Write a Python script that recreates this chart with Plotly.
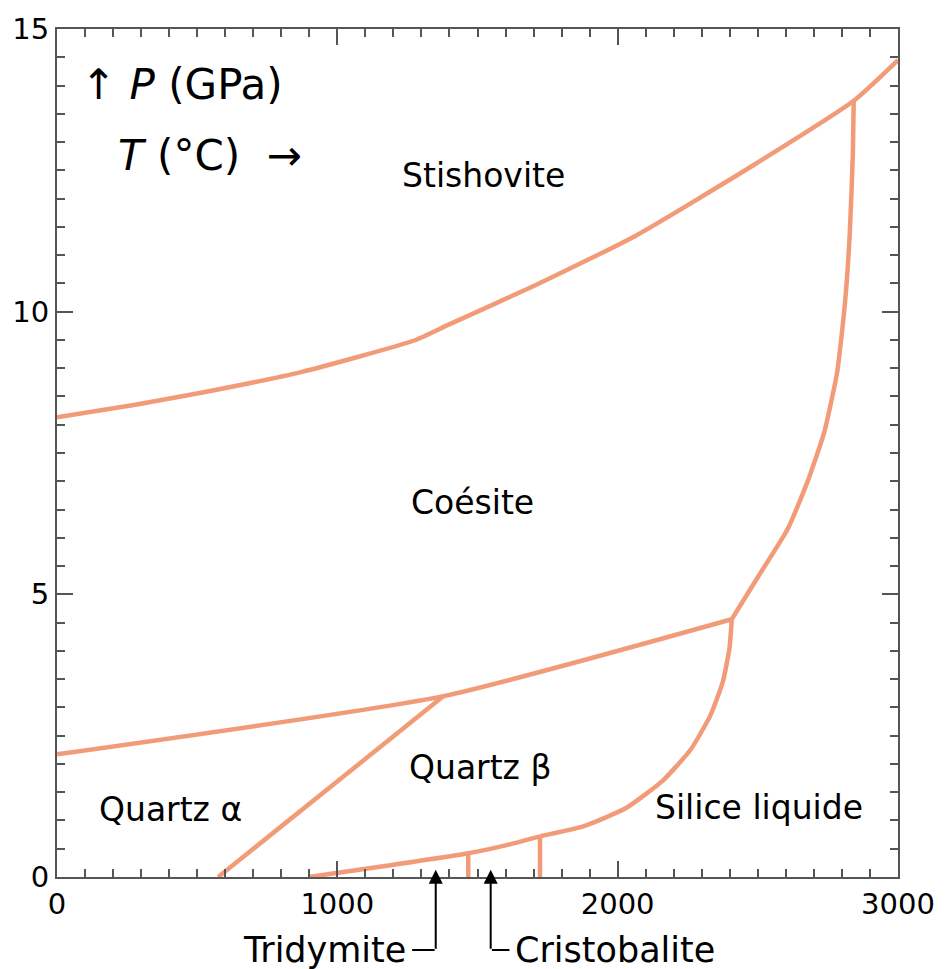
import plotly.graph_objects as go

# Phase boundaries (T in °C, P in GPa)
stish_coes_T = [0, 274, 519, 870, 1274, 1397, 1712, 2063, 2484, 2842, 3000]
stish_coes_P = [8.13, 8.35, 8.57, 8.93, 9.49, 9.77, 10.48, 11.34, 12.59, 13.73, 14.45]

melt_high_T = [2842, 2839, 2828, 2811, 2783, 2737, 2677, 2607, 2502, 2407]
melt_high_P = [13.73, 12.8, 11.39, 10.16, 8.93, 7.87, 6.99, 6.16, 5.32, 4.56]

coes_qtz_T = [0, 1379, 2407]
coes_qtz_P = [2.17, 3.2, 4.56]

alpha_beta_T = [575, 1379]
alpha_beta_P = [0, 3.2]

melt_qtz_T = [2407, 2399, 2375, 2330, 2260, 2160, 2030, 1880, 1723]
melt_qtz_P = [4.56, 4.05, 3.45, 2.85, 2.25, 1.7, 1.22, 0.9, 0.72]

qtz_trid_T = [1723, 1600, 1467, 1151, 898]
qtz_trid_P = [0.72, 0.56, 0.42, 0.18, 0]

trid_crist_T = [1467, 1467]
trid_crist_P = [0, 0.42]

crist_liq_T = [1723, 1723]
crist_liq_P = [0, 0.72]

phase_names = ["Stishovite", "Coésite", "Quartz β", "Quartz α", "Silice liquide"]
phase_T = [1520, 1481, 1509, 405, 2505]
phase_P = [12.4, 6.62, 1.94, 1.2, 1.23]

x_ticks = [0, 1000, 2000, 3000]
y_ticks = [0, 5, 10, 15]

# Arrows marking the narrow fields (T of arrow, T of elbow end, label)
arrow_T = [1351, 1547]
elbow_T = [1267, 1614]
arrow_labels = ["Tridymite", "Cristobalite"]

LINE = "#F29B78"
AX = "#555555"
FONT = "DejaVu Sans"
T_MAX, P_MAX = 3000, 15
PLOT_W, PLOT_H = 855, 852

fig = go.Figure()
curves = [
    (stish_coes_T, stish_coes_P),
    (melt_high_T, melt_high_P),
    (coes_qtz_T, coes_qtz_P),
    (alpha_beta_T, alpha_beta_P),
    (melt_qtz_T, melt_qtz_P),
    (qtz_trid_T, qtz_trid_P),
    (trid_crist_T, trid_crist_P),
    (crist_liq_T, crist_liq_P),
]
for tx, py in curves:
    fig.add_trace(go.Scatter(x=tx, y=py, mode="lines",
                             line=dict(color=LINE, width=4.5, shape="spline", smoothing=0.5),
                             hoverinfo="skip", showlegend=False))

for name, tx, py in zip(phase_names, phase_T, phase_P):
    fig.add_annotation(x=tx, y=py, xref="x", yref="y", text=name, showarrow=False,
                       font=dict(family=FONT, size=33, color="black"))

# Axis labels inside plot
fig.add_annotation(x=0.026, y=0.935, xref="paper", yref="paper", xanchor="left", yanchor="middle",
                   text="↑ <i>P</i> (GPa)", showarrow=False,
                   font=dict(family=FONT, size=42, color="black"))
fig.add_annotation(x=0.07, y=0.851, xref="paper", yref="paper", xanchor="left", yanchor="middle",
                   text="<i>T</i> (°C)  →", showarrow=False,
                   font=dict(family=FONT, size=42, color="black"))

# Arrows under the axis
tip_P, tail_P = 0.13, -1.29
px_per_P = PLOT_H / P_MAX
px_per_T = PLOT_W / T_MAX
for tx, hx, label in zip(arrow_T, elbow_T, arrow_labels):
    anchor = "right" if hx < tx else "left"
    fig.add_annotation(x=tx, y=tip_P / P_MAX, xref="x", yref="paper",
                       ax=0, ay=(tip_P - tail_P) * px_per_P,
                       text="", showarrow=True, arrowhead=2, arrowsize=1.4, arrowwidth=2,
                       arrowcolor="black", standoff=0, startstandoff=0)
    fig.add_annotation(x=hx, y=tail_P / P_MAX, xref="x", yref="paper",
                       ax=(tx - hx) * px_per_T, ay=0,
                       text="", showarrow=True, arrowhead=0, arrowwidth=2,
                       arrowcolor="black", standoff=0, startstandoff=0)
    fig.add_annotation(x=hx, y=tail_P / P_MAX, xref="x", yref="paper",
                       xshift=(-4 if anchor == "right" else 4),
                       text=label, showarrow=False, xanchor=anchor, yanchor="middle",
                       font=dict(family=FONT, size=35, color="black"))

axis_common = dict(showline=True, linecolor=AX, linewidth=2, mirror="ticks",
                   ticks="inside", ticklen=16, tickwidth=2, tickcolor=AX,
                   showgrid=False, zeroline=False,
                   tickfont=dict(family=FONT, size=29, color="black"))
fig.update_xaxes(range=[0, T_MAX], tickvals=x_ticks, ticktext=[str(v) for v in x_ticks],
                 minor=dict(dtick=100, ticks="inside", ticklen=8, tickwidth=2, tickcolor=AX, showgrid=False),
                 **axis_common)
fig.update_yaxes(range=[0, P_MAX], tickvals=y_ticks, ticktext=[str(v) for v in y_ticks],
                 minor=dict(dtick=0.5, ticks="inside", ticklen=8, tickwidth=2, tickcolor=AX, showgrid=False),
                 **axis_common)
fig.update_layout(width=947, height=969, margin=dict(l=52, r=40, t=25, b=92),
                  paper_bgcolor="white", plot_bgcolor="white", font=dict(family=FONT))
fig.write_html("out.html")
